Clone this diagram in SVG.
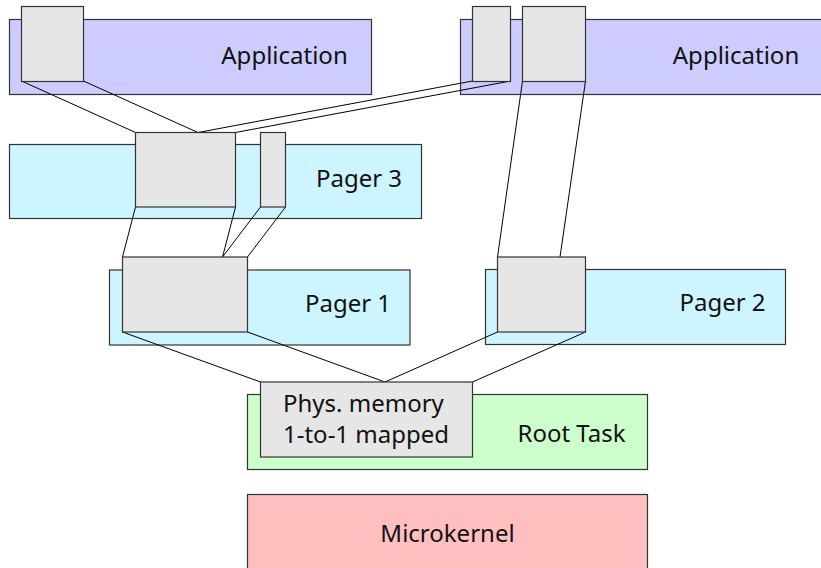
<svg xmlns="http://www.w3.org/2000/svg" width="821" height="568" viewBox="0 0 821 568">
<style>
.band{stroke:#333;stroke-width:1.2}
.app{fill:#ccccff}
.pager{fill:#ccf5ff}
.root{fill:#ccffcc}
.kern{fill:#ffbfbf}
.box{fill:#e6e6e6;stroke:#333;stroke-width:1.2}
.lbl{font-family:"Noto Sans","DejaVu Sans",sans-serif;font-size:24px;fill:#111;text-anchor:middle}
.conn line{stroke:#000;stroke-width:1}
</style>
<rect width="821" height="568" fill="#fff"/>
<g id="app1"><rect class="band app" x="9.5" y="19.5" width="362" height="75"/><text class="lbl" x="284.5" y="64">Application</text></g>
<g id="app2"><rect class="band app" x="460.5" y="19.5" width="370" height="75"/><text class="lbl" x="736" y="64">Application</text></g>
<g id="pager3"><rect class="band pager" x="9.5" y="144.5" width="412" height="74"/><text class="lbl" x="359" y="187">Pager 3</text></g>
<g id="pager1"><rect class="band pager" x="109.5" y="270" width="300.5" height="75"/><text class="lbl" x="348" y="312">Pager 1</text></g>
<g id="pager2"><rect class="band pager" x="485.5" y="269.5" width="300" height="75"/><text class="lbl" x="722.5" y="311">Pager 2</text></g>
<g id="roottask"><rect class="band root" x="247.5" y="394.5" width="400" height="75"/><text class="lbl" x="571.5" y="442">Root Task</text></g>
<g id="microkernel"><rect class="band kern" x="247.5" y="494.5" width="400" height="80"/><text class="lbl" x="447.5" y="542">Microkernel</text></g>
<g class="conn" id="connectors">
<line x1="21.5" y1="81" x2="135.5" y2="132.5"/>
<line x1="83.5" y1="81" x2="198" y2="132.5"/>
<line x1="198" y1="132.5" x2="472.5" y2="81"/>
<line x1="235.5" y1="132.5" x2="510.5" y2="81"/>
<line x1="135.5" y1="207" x2="122.5" y2="257"/>
<line x1="235.5" y1="207" x2="222.5" y2="257"/>
<line x1="260.5" y1="207" x2="222.5" y2="257"/>
<line x1="285.5" y1="207" x2="247.5" y2="257"/>
<line x1="522.5" y1="81" x2="497.5" y2="257"/>
<line x1="585.5" y1="81" x2="560" y2="257"/>
<line x1="122.5" y1="332" x2="260.5" y2="382"/>
<line x1="247.5" y1="332" x2="385" y2="382"/>
<line x1="497.5" y1="332" x2="385" y2="382"/>
<line x1="585.5" y1="332" x2="472.5" y2="382"/>
</g>
<g id="app1-region"><rect class="box" x="21.5" y="6.5" width="62" height="75"/></g>
<g id="app2-region-a"><rect class="box" x="472.5" y="6.5" width="38" height="75"/></g>
<g id="app2-region-b"><rect class="box" x="522.5" y="6.5" width="63" height="75"/></g>
<g id="pager3-region-a"><rect class="box" x="135.5" y="132.5" width="100" height="74.5"/></g>
<g id="pager3-region-b"><rect class="box" x="260.5" y="132.5" width="25" height="74.5"/></g>
<g id="pager1-region"><rect class="box" x="122.5" y="257" width="125" height="75"/></g>
<g id="pager2-region"><rect class="box" x="497.5" y="257" width="88" height="75"/></g>
<g id="physmem"><rect class="box" x="260.5" y="382" width="212" height="75"/>
<text class="lbl" x="283" y="412" style="text-anchor:start">Phys. memory</text>
<text class="lbl" x="283" y="443" style="text-anchor:start">1-to-1 mapped</text></g>
</svg>
